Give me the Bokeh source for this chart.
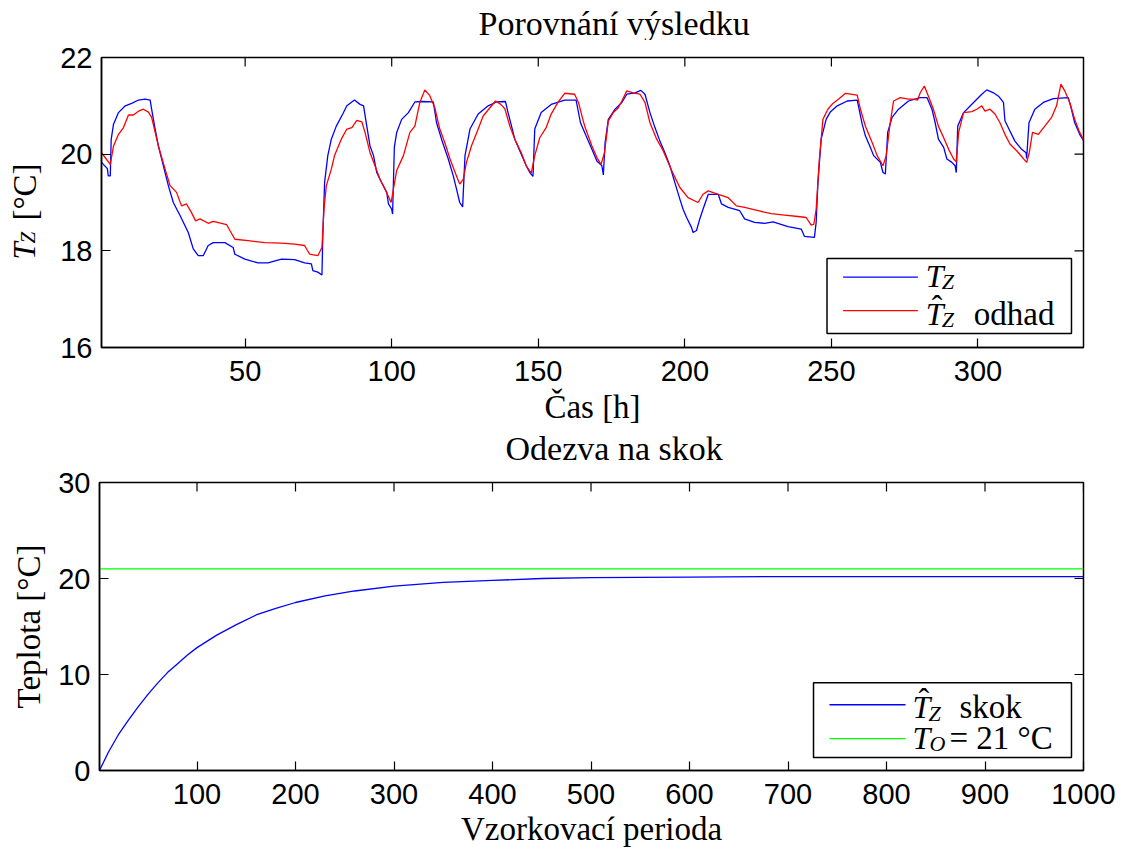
from bokeh.plotting import figure
from bokeh.models import Range1d, FixedTicker, BoxAnnotation, Label, Arrow
from bokeh.layouts import column, row
from bokeh.embed import file_html
from bokeh.resources import INLINE

# ---------------- data ----------------
tz_hours = [1.0, 3.0, 3.3, 4.0, 4.3, 5.1, 6.8, 9.1, 11.3, 13.6, 15.9, 17.6, 18.1, 19.3, 20.4,
            22.1, 23.8, 25.5, 27.8, 30.6, 32.3, 34.0, 35.7, 37.4, 39.1, 43.1, 45.9, 46.5, 49.9,
            54.4, 57.8, 62.4, 66.9, 70.3, 72.6, 73.1, 74.8, 76.2, 76.5, 77.1, 78.2, 79.4, 81.1,
            83.3, 84.7, 87.3, 89.2, 90.4, 91.5, 92.6, 93.8, 94.9, 96.6, 98.3, 98.9, 100.0, 100.3,
            100.9, 101.7, 103.4, 105.7, 107.9, 110.2, 114.2, 115.3, 117.0, 119.3, 121.0, 122.1,
            123.2, 124.2, 125.0, 126.7, 129.5, 132.9, 135.7, 138.8, 139.7, 142.0, 144.2, 145.9,
            147.1, 148.2, 148.8, 151.0, 154.4, 159.0, 162.9, 164.4, 166.3, 168.3, 170.0, 171.7,
            172.2, 172.8, 173.9, 176.2, 178.5, 180.2, 183.0, 185.0, 186.4, 188.1, 189.8, 191.5,
            193.2, 194.9, 196.6, 198.3, 199.4, 200.6, 202.3, 202.8, 204.0, 205.1, 206.2, 208.0,
            211.4, 212.5, 214.8, 218.7, 220.4, 223.8, 227.2, 230.1, 235.2, 239.7, 240.8, 244.2,
            244.8, 245.4, 246.5, 248.2, 249.7, 252.0, 255.4, 258.8, 259.7, 260.5, 261.6, 263.3,
            264.4, 266.7, 267.6, 268.4, 269.2, 270.7, 272.9, 276.3, 280.3, 282.6, 284.3, 285.4,
            286.5, 288.3, 289.4, 291.1, 292.2, 292.6, 293.1, 295.1, 298.5, 301.3, 303.0, 305.3,
            307.0, 308.7, 309.2, 310.9, 312.6, 314.9, 316.4, 316.6, 317.4, 319.4, 322.3, 325.7,
            330.8, 331.6, 333.0, 334.7, 336.0]
tz_values = [19.83, 19.70, 19.55, 19.55, 20.30, 20.62, 20.86, 21.00, 21.05, 21.12, 21.14, 21.12,
             20.93, 20.52, 20.17, 19.76, 19.35, 19.00, 18.73, 18.38, 18.04, 17.90, 17.90, 18.11,
             18.17, 18.17, 18.07, 17.93, 17.83, 17.75, 17.75, 17.83, 17.82, 17.75, 17.73, 17.59,
             17.56, 17.50, 18.31, 19.41, 19.97, 20.31, 20.58, 20.83, 21.00, 21.12, 21.03, 21.00,
             20.58, 20.17, 19.97, 19.62, 19.41, 19.21, 18.97, 18.86, 18.76, 20.14, 20.45, 20.72,
             20.86, 21.08, 21.09, 21.08, 20.65, 20.31, 19.90, 19.55, 19.28, 19.00, 18.91, 19.97,
             20.52, 20.83, 21.00, 21.08, 21.09, 20.86, 20.31, 20.00, 19.76, 19.62, 19.54, 20.52,
             20.86, 21.03, 21.12, 21.12, 20.65, 20.38, 20.10, 19.86, 19.76, 19.57, 20.24, 20.72,
             20.93, 21.07, 21.24, 21.27, 21.32, 21.24, 20.86, 20.55, 20.27, 20.03, 19.76, 19.41,
             19.07, 18.86, 18.69, 18.48, 18.38, 18.42, 18.66, 18.86, 19.17, 19.17, 18.97, 18.90,
             18.83, 18.66, 18.59, 18.57, 18.60, 18.50, 18.45, 18.30, 18.28, 18.59, 19.41, 20.31,
             20.72, 20.88, 21.00, 21.10, 21.12, 20.86, 20.62, 20.38, 20.14, 19.97, 19.83, 19.62,
             19.59, 20.45, 20.76, 20.93, 21.10, 21.17, 21.17, 20.93, 20.65, 20.31, 20.14, 19.90,
             19.83, 19.76, 19.62, 20.58, 20.86, 21.07, 21.24, 21.33, 21.27, 21.20, 21.07, 20.69,
             20.48, 20.27, 20.10, 20.03, 19.91, 20.65, 20.93, 21.07, 21.15, 21.17, 21.00, 20.65,
             20.41, 20.28]

est_hours = [1.0, 4.0, 5.1, 6.8, 8.5, 10.2, 11.9, 13.6, 15.3, 17.0, 18.1, 20.4, 22.7, 24.4, 26.6,
             28.3, 30.0, 31.7, 33.1, 34.6, 37.4, 39.1, 43.7, 44.8, 46.5, 51.0, 56.7, 62.4, 66.9,
             70.3, 72.0, 74.8, 76.2, 76.9, 77.7, 79.4, 80.5, 82.8, 84.7, 86.4, 88.1, 89.8, 90.9,
             92.6, 94.3, 96.0, 97.7, 99.8, 100.6, 101.7, 104.0, 106.2, 107.9, 109.6, 111.3, 113.0,
             114.7, 116.4, 118.1, 119.9, 122.1, 123.2, 124.4, 125.5, 127.2, 129.5, 131.2, 133.5,
             135.4, 137.2, 138.6, 140.3, 142.0, 144.2, 145.9, 147.6, 148.8, 150.5, 152.7, 154.4,
             156.7, 159.0, 162.4, 163.7, 165.2, 166.0, 168.3, 170.0, 171.4, 172.6, 173.9, 175.6,
             177.3, 178.5, 180.2, 182.4, 184.7, 186.4, 188.1, 190.4, 192.6, 195.5, 198.3, 201.1,
             204.5, 206.2, 208.0, 211.4, 214.8, 217.6, 220.4, 225.0, 229.5, 234.0, 238.6, 241.4,
             243.1, 244.0, 244.8, 245.9, 247.1, 248.8, 250.5, 252.5, 254.8, 258.8, 259.9, 261.6,
             263.9, 265.6, 267.6, 268.7, 269.9, 271.2, 273.5, 276.3, 278.0, 279.4, 280.3, 281.7,
             283.1, 284.8, 286.5, 288.3, 290.0, 291.7, 292.6, 293.4, 295.1, 297.9, 299.6, 301.3,
             302.4, 304.1, 305.8, 307.5, 309.2, 310.9, 313.2, 315.2, 316.6, 317.5, 318.6, 320.6,
             322.8, 325.1, 326.8, 328.3, 329.6, 331.3, 333.0, 334.5, 336.0]
est_values = [20.03, 19.79, 20.17, 20.41, 20.55, 20.81, 20.81, 20.89, 20.93, 20.87, 20.76, 20.17,
              19.69, 19.35, 19.21, 18.93, 18.97, 18.79, 18.62, 18.66, 18.57, 18.61, 18.54, 18.42,
              18.24, 18.21, 18.17, 18.16, 18.14, 18.11, 17.93, 17.90, 18.07, 18.86, 19.35, 19.69,
              19.97, 20.31, 20.52, 20.55, 20.70, 20.67, 20.45, 20.03, 19.76, 19.48, 19.28, 19.00,
              19.28, 19.66, 19.97, 20.45, 20.58, 21.07, 21.33, 21.21, 20.96, 20.52, 20.24, 19.90,
              19.55, 19.38, 19.48, 19.83, 20.17, 20.52, 20.79, 20.96, 21.10, 21.03, 20.94, 20.58,
              20.31, 20.03, 19.76, 19.61, 19.97, 20.34, 20.55, 20.83, 21.07, 21.26, 21.24, 21.07,
              20.72, 20.55, 20.17, 19.93, 19.79, 20.03, 20.69, 20.86, 20.96, 21.10, 21.31, 21.27,
              21.24, 21.07, 20.65, 20.31, 20.07, 19.66, 19.31, 19.10, 19.00, 19.17, 19.24, 19.17,
              19.10, 18.93, 18.90, 18.83, 18.77, 18.74, 18.71, 18.69, 18.53, 18.55, 18.86, 19.90,
              20.72, 20.93, 21.05, 21.14, 21.26, 21.22, 20.93, 20.58, 20.24, 19.97, 19.76, 19.97,
              20.58, 21.10, 21.17, 21.14, 21.14, 21.12, 21.27, 21.41, 21.20, 20.93, 20.58, 20.34,
              20.10, 19.90, 19.84, 20.45, 20.86, 20.88, 20.93, 21.00, 20.89, 20.93, 20.83, 20.65,
              20.41, 20.21, 20.07, 19.93, 19.83, 20.03, 20.45, 20.41, 20.58, 20.76, 21.00, 21.45,
              21.31, 21.07, 20.72, 20.48, 20.30]

step_k = [1, 10, 20, 30, 40, 50, 60, 70, 80, 90, 100, 120, 140, 160, 180, 200, 230, 260, 300,
          350, 400, 450, 500, 600, 700, 800, 900, 1000]
step_values = [0.0, 1.9, 3.7, 5.2, 6.6, 7.9, 9.1, 10.2, 11.1, 12.0, 12.8, 14.1, 15.2, 16.2, 16.9,
               17.5, 18.2, 18.7, 19.2, 19.6, 19.8, 20.0, 20.1, 20.15, 20.2, 20.2, 20.2, 20.2]
ref_k = [1, 1000]
ref_values = [21.0, 21.0]

top_xticks = [50, 100, 150, 200, 250, 300]
top_yticks = [16, 18, 20, 22]
bot_xticks = [100, 200, 300, 400, 500, 600, 700, 800, 900, 1000]
bot_yticks = [0, 10, 20, 30]

# ---------------- styling helpers ----------------
SERIF = "Liberation Serif"
SANS = "Liberation Sans"
BLUE = "#0000ff"
RED = "#ff0000"
GREEN = "#00ff00"
TICK = 9
LIFT = 10   # vertical correction for Label text


def style_axis(ax, ticks):
    ax.ticker = FixedTicker(ticks=ticks)
    ax.axis_line_color = "black"
    ax.axis_line_width = 1.5
    ax.major_tick_in = TICK
    ax.major_tick_out = 0
    ax.major_tick_line_color = "black"
    ax.major_tick_line_width = 1.2
    ax.minor_tick_line_color = None
    ax.major_label_text_font = SANS
    ax.major_label_text_font_size = "29px"
    ax.major_label_text_color = "black"
    ax.major_label_standoff = 13
    ax.axis_label_text_font = SERIF
    ax.axis_label_text_font_size = "33px"
    ax.axis_label_text_font_style = "normal"
    ax.axis_label_text_color = "black"


def blank(w, h):
    """A plain drawing strip (no axes) whose data units are pixels."""
    s = figure(width=w, height=h, x_range=Range1d(0, w), y_range=Range1d(0, h),
               output_backend="svg", toolbar_location=None, title_location=None,
               x_axis_type=None, y_axis_type=None, min_border=0)
    s.xgrid.visible = False
    s.ygrid.visible = False
    s.outline_line_color = None
    s.background_fill_color = "white"
    s.border_fill_color = "white"
    return s


def make_fig(w, h, xr, yr, xticks, yticks, left, top, bottom):
    p = figure(width=w, height=h, x_range=Range1d(*xr), y_range=Range1d(*yr),
               output_backend="svg", toolbar_location=None, title_location=None,
               min_border_left=left, min_border_right=47,
               min_border_top=top, min_border_bottom=bottom)
    p.xgrid.visible = False
    p.ygrid.visible = False
    p.outline_line_color = "black"
    p.outline_line_width = 1.5
    p.background_fill_color = "white"
    p.border_fill_color = "white"
    style_axis(p.xaxis[0], xticks)
    style_axis(p.yaxis[0], yticks)
    p.yaxis[0].major_label_standoff = 9
    # mirrored inward ticks on the top and right edges of the box
    p.ray(x=xticks, y=[yr[1]] * len(xticks), length=TICK, length_units="screen",
          angle=-90, angle_units="deg", line_color="black", line_width=1.2)
    p.ray(x=[xr[1]] * len(yticks), y=yticks, length=TICK, length_units="screen",
          angle=180, angle_units="deg", line_color="black", line_width=1.2)
    return p


def txt(p, x, y, text, dx=0, dy=0, size=32, italic=False, angle=0, align="left"):
    p.add_layout(Label(x=x, y=y, text=text, x_offset=dx, y_offset=dy,
                       text_font=SERIF, text_font_size=f"{size}px",
                       text_font_style="italic" if italic else "normal",
                       text_color="black", text_align=align,
                       text_baseline="alphabetic", angle=angle, angle_units="deg"))


# ---------------- title strip of the top plot (page rows 0-40) ----------------
head1 = blank(1130, 40)
txt(head1, 591, 7.5, "Porovnání výsledku", dy=LIFT, size=34, align="center")

# ---------------- top plot (page rows 40-427) ----------------
p1 = make_fig(1073, 387, (1, 336), (16, 22), top_xticks, top_yticks, 42, 17, 80)
p1.line(tz_hours, tz_values, line_color=BLUE, line_width=1.3)
p1.line(est_hours, est_values, line_color=RED, line_width=1.3)
p1.xaxis[0].axis_label = "Čas [h]"
p1.xaxis[0].axis_label_standoff = 5

# legend of the top plot
p1.add_layout(BoxAnnotation(left=248.5, right=331.9, bottom=16.29, top=17.84,
                            fill_color="white", fill_alpha=1.0,
                            line_color="black", line_width=1.5, line_alpha=1.0))
p1.add_layout(Arrow(x_start=254.0, y_start=17.455, x_end=279.5, y_end=17.455, end=None,
                    line_color=BLUE, line_width=1.3))
p1.add_layout(Arrow(x_start=254.0, y_start=16.765, x_end=279.5, y_end=16.765, end=None,
                    line_color=RED, line_width=1.3))
txt(p1, 282.2, 17.28, "T", dy=LIFT, italic=True)
txt(p1, 282.2, 17.28, "Z", dx=16, dy=LIFT - 6, size=22, italic=True)
txt(p1, 282.2, 16.49, "T", dy=LIFT, italic=True)
txt(p1, 282.2, 16.49, "ˆ", dx=6, dy=LIFT + 8)
txt(p1, 282.2, 16.49, "Z", dx=16, dy=LIFT - 6, size=22, italic=True)
txt(p1, 282.2, 16.49, "odhad", dx=48, dy=LIFT, size=33)

# y label of the top plot (T_Z [°C]) in a narrow side strip, glyph by glyph
lab = blank(57, 387)
YX, YY, SHIFT = 24, 176, -44
txt(lab, YX, YY, "T", dy=SHIFT, size=31, italic=True, angle=90)
txt(lab, YX, YY, "Z", dx=3, dy=SHIFT + 16, size=21, italic=True, angle=90)
txt(lab, YX, YY, "[", dy=SHIFT + 39, size=33, angle=90)
txt(lab, YX, YY, "°", dy=SHIFT + 50, size=33, angle=90)
txt(lab, YX, YY, "C", dy=SHIFT + 63, size=33, angle=90)
txt(lab, YX, YY, "]", dy=SHIFT + 85, size=33, angle=90)

# ---------------- title strip of the bottom plot (page rows 427-465) ----------------
head2 = blank(1130, 38)
txt(head2, 591, 7.5, "Odezva na skok", dy=LIFT, size=34, align="center")

# ---------------- bottom plot (page rows 465-849) ----------------
p2 = make_fig(1130, 384, (1, 1000), (0, 30), bot_xticks, bot_yticks, 99, 17, 78)
p2.line(step_k, step_values, line_color=BLUE, line_width=1.3)
p2.line(ref_k, ref_values, line_color=GREEN, line_width=1.3)
p2.xaxis[0].axis_label = "Vzorkovací perioda"
p2.xaxis[0].axis_label_standoff = 4
p2.yaxis[0].axis_label = "Teplota [°C]"
p2.yaxis[0].axis_label_standoff = 8

p2.add_layout(BoxAnnotation(left=725.9, right=987.8, bottom=1.35, top=9.13,
                            fill_color="white", fill_alpha=1.0,
                            line_color="black", line_width=1.5, line_alpha=1.0))
p2.add_layout(Arrow(x_start=742.1, y_start=6.85, x_end=819.3, y_end=6.85, end=None,
                    line_color=BLUE, line_width=1.3))
p2.add_layout(Arrow(x_start=742.1, y_start=3.32, x_end=819.3, y_end=3.32, end=None,
                    line_color=GREEN, line_width=1.3))
txt(p2, 826.4, 5.53, "T", dy=LIFT, italic=True)
txt(p2, 826.4, 5.53, "ˆ", dx=6, dy=LIFT + 8)
txt(p2, 826.4, 5.53, "Z", dx=16, dy=LIFT - 6, size=22, italic=True)
txt(p2, 826.4, 5.53, "skok", dx=47, dy=LIFT, size=33)
txt(p2, 826.4, 2.36, "T", dy=LIFT, italic=True)
txt(p2, 826.4, 2.36, "O", dx=17, dy=LIFT - 6, size=22, italic=True)
txt(p2, 826.4, 2.36, "= 21 °C", dx=37, dy=LIFT, size=33)

layout = column(head1, row(lab, p1, spacing=0), head2, p2, spacing=0)
open("out.html", "w").write(file_html(layout, INLINE))
